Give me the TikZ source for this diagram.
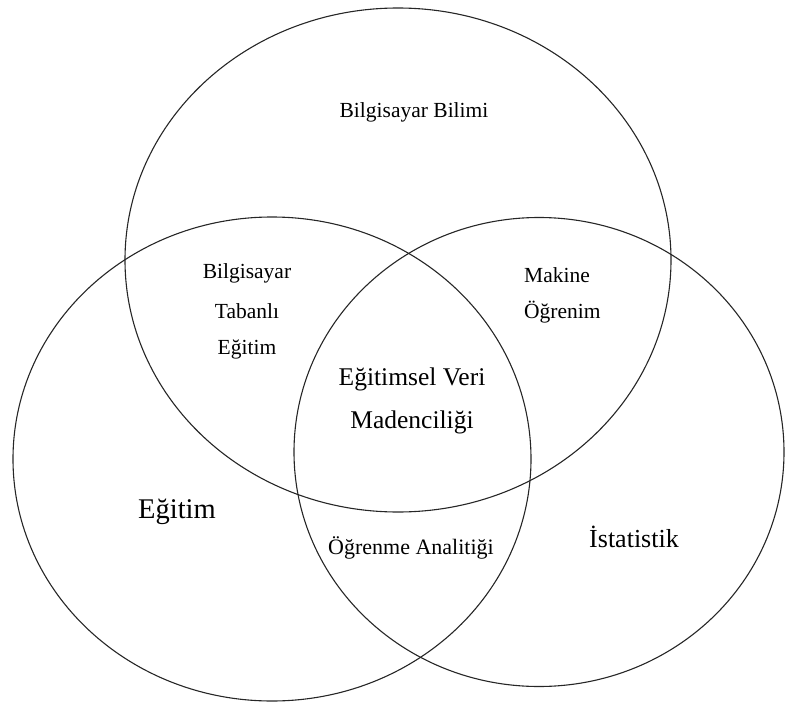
\documentclass[tikz,border=0pt]{standalone}
\usepackage{fontspec}
\setmainfont{Liberation Serif}
\begin{document}
\begin{tikzpicture}[x=1pt,y=-1pt,
  ring/.style={draw=black!85,line width=1.1pt},
  lbl/.style={inner sep=0pt,anchor=center,font=\fontsize{21.5}{24}\selectfont},
  biglbl/.style={inner sep=0pt,anchor=center,font=\fontsize{25.5}{28}\selectfont}]
\useasboundingbox (0,0) rectangle (785,704);
\draw[ring] (398,260) ellipse [x radius=273, y radius=252];
\draw[ring] (272,459) ellipse [x radius=259, y radius=242];
\draw[ring] (539,452) ellipse [x radius=245, y radius=234.5];
\node[lbl] (bb) at (414,112) {Bilgisayar Bilimi};
\node[lbl] (bt1) at (247,273) {Bilgisayar};
\node[lbl] (bt2) at (247,311) {Tabanlı};
\node[lbl] (bt3) at (247,349) {Eğitim};
\node[lbl,anchor=west] (mo1) at (524,275) {Makine};
\node[lbl,anchor=west] (mo2) at (524,312) {Öğrenim};
\node[biglbl] (ev1) at (412,379) {Eğitimsel Veri};
\node[biglbl] (ev2) at (412,422) {Madenciliği};
\node[inner sep=0pt,font=\fontsize{28.5}{32}\selectfont] (eg) at (177,512) {Eğitim};
\node[lbl,font=\fontsize{22}{24}\selectfont] (oa) at (411,548) {Öğrenme Analitiği};
\node[biglbl,font=\fontsize{26}{28}\selectfont] (is) at (634,537) {İstatistik};
\end{tikzpicture}
\end{document}
